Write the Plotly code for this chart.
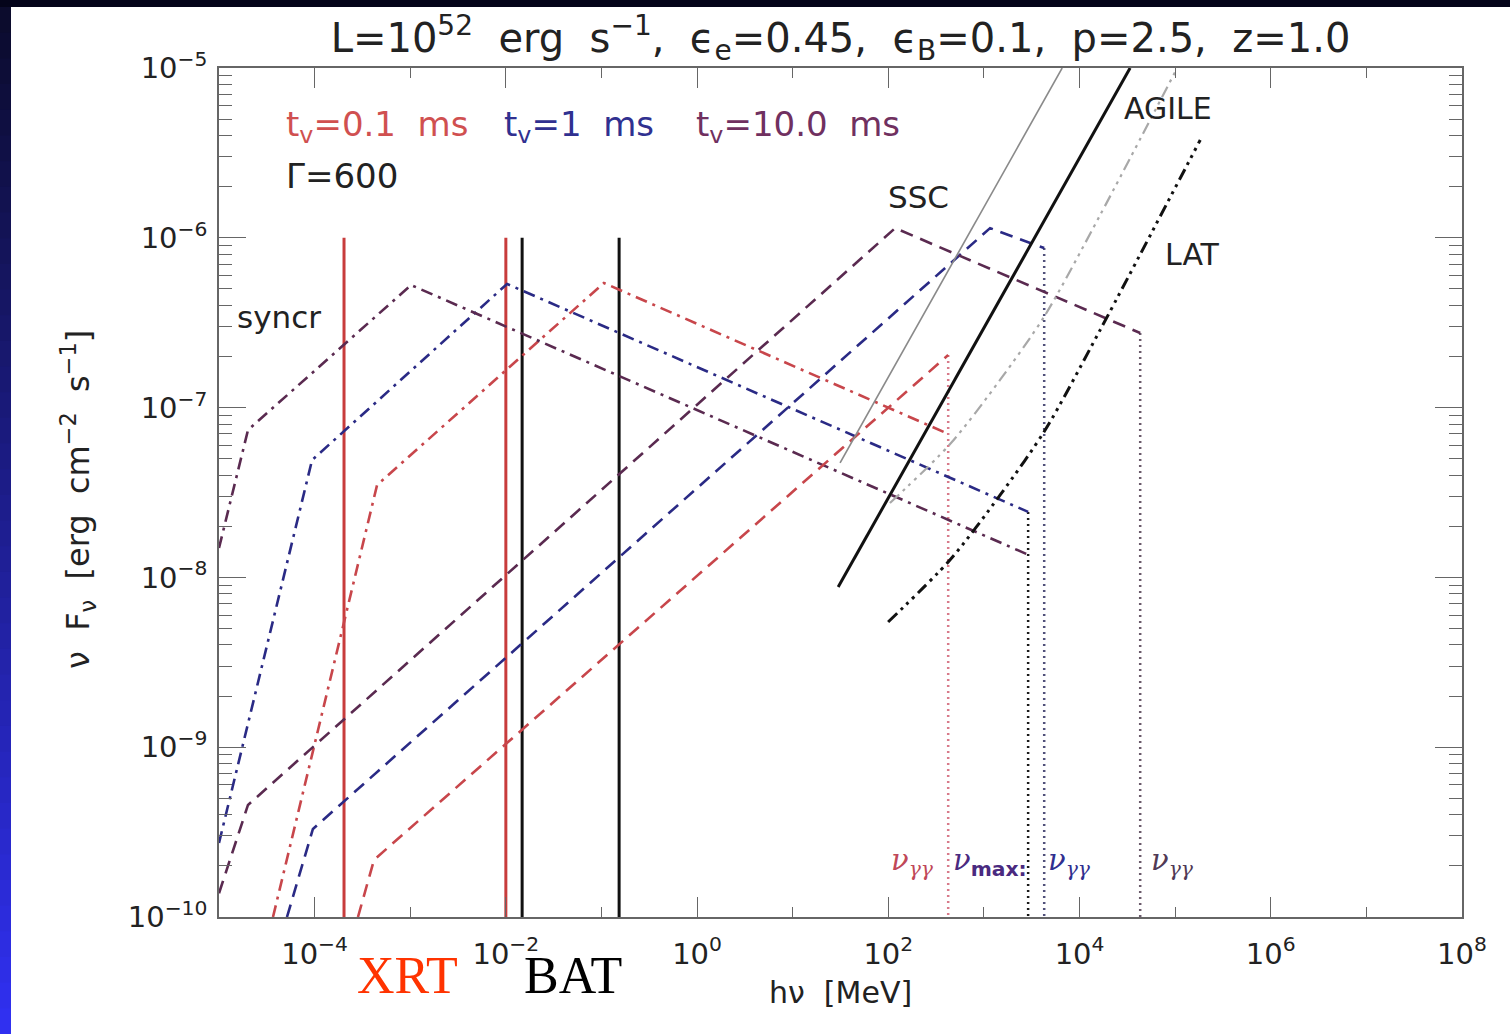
import plotly.graph_objects as go

# ---------------- data (energies in MeV, nuFnu in erg cm^-2 s^-1) ----------------
# synchrotron spectra (dash-dot)
sync_E_01 = [3.67e-5, 4.5e-4, 0.106, 423]
sync_F_01 = [1.0e-10, 3.5e-8, 5.42e-7, 7.0e-8]
sync_E_1 = [1.0e-5, 9.4e-5, 1.03e-2, 2.9e3]
sync_F_1 = [2.73e-10, 4.91e-8, 5.35e-7, 2.43e-8]
sync_E_10 = [1.0e-5, 2.01e-5, 1.02e-3, 2.9e3]
sync_F_10 = [1.49e-8, 7.38e-8, 5.27e-7, 1.36e-8]

# SSC spectra (dashed)
ssc_E_01 = [2.84e-4, 4.18e-4, 423]
ssc_F_01 = [1.0e-10, 2.17e-10, 2.04e-7]
ssc_E_1 = [5.14e-5, 9.6e-5, 1.16e3, 4.27e3]
ssc_F_1 = [1.0e-10, 3.30e-10, 1.14e-6, 8.7e-7]
ssc_E_10 = [1.0e-5, 2.01e-5, 118, 4.31e4]
ssc_F_10 = [1.38e-10, 4.57e-10, 1.14e-6, 2.75e-7]

# instrument sensitivities
agile_E = [29.9, 3.38e4]
agile_F = [8.77e-9, 1.0e-5]
agile2_E = [31.3, 6.58e3]
agile2_F = [4.72e-8, 1.0e-5]
lat_E = [99.5, 443, 1.48e3, 4.37e3, 1.64e4, 1.83e5]
lat_F = [5.46e-9, 1.27e-8, 3.06e-8, 7.38e-8, 2.86e-7, 3.77e-6]
lat2_E = [104, 443, 1.48e3, 4.37e3, 1.64e4, 1.05e5]
lat2_F = [2.74e-8, 6.1e-8, 1.46e-7, 3.51e-7, 1.36e-6, 1.0e-5]

# energy bands (vertical solid lines)
xrt_E = [2.03e-4, 1.0e-2]
bat_E = [1.48e-2, 0.153]
band_F = [1.0e-6, 1.0e-10]

# cut-off frequencies (vertical dotted lines)
nugg_E = [423, 4.27e3, 4.31e4]
nugg_Ftop = [2.04e-7, 8.7e-7, 2.75e-7]
numax_E = 2.9e3
numax_Ftop = 2.43e-8
F_bottom = 1.0e-10

x_major = [1e-4, 1e-2, 1e0, 1e2, 1e4, 1e6, 1e8]
x_labels = ["10<sup>−4</sup>", "10<sup>−2</sup>", "10<sup>0</sup>", "10<sup>2</sup>",
            "10<sup>4</sup>", "10<sup>6</sup>", "10<sup>8</sup>"]
x_minor = [1e-5, 1e-3, 1e-1, 1e1, 1e3, 1e5, 1e7]
y_major = [1e-10, 1e-9, 1e-8, 1e-7, 1e-6, 1e-5]
y_labels = ["10<sup>−10</sup>", "10<sup>−9</sup>", "10<sup>−8</sup>", "10<sup>−7</sup>",
            "10<sup>−6</sup>", "10<sup>−5</sup>"]

# ---------------- styles ----------------
RED = "#c8464b"
BLUE = "#2a2a85"
MAROON = "#5a2a50"
DASH = "13px,8px"
DASHDOT = "12px,6px,3px,6px"
DASH3DOT = "12px,5px,3px,5px,3px,5px,3px,5px"
DOT = "2px,4px"
FONT = "DejaVu Sans"

fig = go.Figure()


def line(x, y, color, width, dash=None, shape="linear"):
    fig.add_trace(go.Scatter(x=x, y=y, mode="lines", hoverinfo="skip",
                             line=dict(color=color, width=width, dash=dash, shape=shape,
                                       smoothing=0.8)))


# vertical band lines
for e in xrt_E:
    line([e, e], band_F, "#c83c3c", 3)
for e in bat_E:
    line([e, e], band_F, "#111111", 3)

# dotted cut-off lines
for e, ft, c in zip(nugg_E, nugg_Ftop, ["#d87a8a", "#50507a", "#6a5a6a"]):
    line([e, e], [ft, F_bottom], c, 2.5, DOT)
line([numax_E, numax_E], [numax_Ftop, F_bottom], "#1a1a1a", 2.5, DOT)

# synchrotron
line(sync_E_01, sync_F_01, RED, 2.6, DASHDOT)
line(sync_E_1, sync_F_1, BLUE, 2.6, DASHDOT)
line(sync_E_10, sync_F_10, MAROON, 2.6, DASHDOT)

# SSC
line(ssc_E_01, ssc_F_01, RED, 2.6, DASH)
line(ssc_E_1, ssc_F_1, BLUE, 2.6, DASH)
line(ssc_E_10, ssc_F_10, MAROON, 2.6, DASH)

# instruments
line(agile2_E, agile2_F, "#8a8a8a", 1.6)
line(agile_E, agile_F, "#111111", 3)
line(lat2_E, lat2_F, "#a8a8a8", 2.2, DASH3DOT, "spline")
line(lat_E, lat_F, "#111111", 3, DASH3DOT, "spline")


# ---------------- layout helpers ----------------
L, R, T, B = 219, 1462, 68, 917
W, H = 1510, 1034


def px(xp):
    return (xp - L) / (R - L)


def py(yp):
    return (B - yp) / (B - T)


annots = []


def text(t, xp, yp, size, color="#222222", xanchor="left", family=FONT, angle=0):
    annots.append(dict(text=t, x=px(xp), y=py(yp), xref="paper", yref="paper",
                       xanchor=xanchor, yanchor="middle", showarrow=False,
                       textangle=angle, font=dict(family=family, size=size, color=color)))


NB = "\u00a0"
text("t<sub>v</sub>=0.1" + NB * 2 + "ms", 284, 126, 34, "#d05050")
text("t<sub>v</sub>=1" + NB * 2 + "ms", 502, 126, 34, "#303090")
text("t<sub>v</sub>=10.0" + NB * 2 + "ms", 694, 126, 34, "#703060")
text("Γ=600", 284, 176, 34, "#222222")
text("syncr", 235, 317, 31)
text("SSC", 886, 197, 31)
text("AGILE", 1122, 108, 30)
text("LAT", 1163, 254, 30)

text("<i>ν</i><sub><i>γγ</i></sub>", 889, 862, 29, "#c04858", family="DejaVu Serif")
text("<i>ν</i><sub><span style='font-family:DejaVu Sans'><b>max:</b></span></sub>",
     951, 862, 29, "#4a2a80", family="DejaVu Serif")
text("<i>ν</i><sub><i>γγ</i></sub>", 1046, 862, 29, "#303090", family="DejaVu Serif")
text("<i>ν</i><sub><i>γγ</i></sub>", 1149, 862, 29, "#503a55", family="DejaVu Serif")

text("XRT", 407, 975, 52, "#ff3300", xanchor="center", family="Liberation Serif")
text("BAT", 573, 975, 52, "#000000", xanchor="center", family="Liberation Serif")

# axis titles
text("hν" + NB * 2 + "[MeV]", 840, 992, 30, xanchor="center")
text("ν" + NB * 2 + "F<sub>ν</sub>" + NB * 2 + "[erg" + NB * 2 + "cm<sup>−2</sup>" + NB * 2
     + "s<sup>−1</sup>]", 78, 500, 32, xanchor="center", angle=-90)

# slide background strips (top dark band, left blue gradient)
shapes = [dict(type="rect", xref="paper", yref="paper", x0=px(0), x1=px(W),
               y0=py(0), y1=py(7), line=dict(width=0), fillcolor="#04041a", layer="above")]
nb = 40
for i in range(nb):
    f = i / (nb - 1)
    c = "rgb(%d,%d,%d)" % (12 + f * 36, 12 + f * 36, 45 + f * 195)
    y0 = 7 + (H - 7) * i / nb
    y1 = 7 + (H - 7) * (i + 1) / nb + 1
    shapes.append(dict(type="rect", xref="paper", yref="paper", x0=px(0), x1=px(11),
                       y0=py(y0), y1=py(y1), line=dict(width=0), fillcolor=c, layer="above"))

AX = "#666666"
fig.update_layout(
    width=W, height=H, autosize=False,
    margin=dict(l=L, r=W - R, t=T, b=H - B),
    paper_bgcolor="white", plot_bgcolor="white", showlegend=False,
    title=dict(text="L=10<sup>52</sup>" + NB * 2 + "erg" + NB * 2 + "s<sup>−1</sup>," + NB * 2
               + "ϵ<sub>e</sub>=0.45," + NB * 2 + "ϵ<sub>B</sub>=0.1," + NB * 2 + "p=2.5,"
               + NB * 2 + "z=1.0",
               x=0.5, xref="paper", xanchor="center", y=1 - 38 / H, yanchor="middle",
               font=dict(family=FONT, size=40, color="#222222")),
    xaxis=dict(type="log", range=[-5, 8], showgrid=False, zeroline=False,
               showline=True, linecolor=AX, linewidth=1.5, mirror="ticks",
               ticks="inside", ticklen=20, tickwidth=1.3, tickcolor=AX,
               tickmode="array", tickvals=x_major, ticktext=x_labels,
               ticklabelstandoff=10,
               tickfont=dict(family=FONT, size=29, color="#222222"),
               minor=dict(tickmode="array", tickvals=x_minor, ticks="inside",
                          ticklen=10, tickwidth=1.3, tickcolor=AX, showgrid=False)),
    yaxis=dict(type="log", range=[-10, -5], showgrid=False, zeroline=False,
               showline=True, linecolor=AX, linewidth=1.5, mirror="ticks",
               ticks="inside", ticklen=27, tickwidth=1.3, tickcolor=AX,
               tickmode="array", tickvals=y_major, ticktext=y_labels,
               ticklabelstandoff=4,
               tickfont=dict(family=FONT, size=29, color="#222222"),
               minor=dict(dtick="D1", ticks="inside", ticklen=13, tickwidth=1.3,
                          tickcolor=AX, showgrid=False)),
    annotations=annots,
    shapes=shapes,
)

fig.write_html("out.html", config={"displayModeBar": False},
               post_script="document.body.style.margin='0';")
